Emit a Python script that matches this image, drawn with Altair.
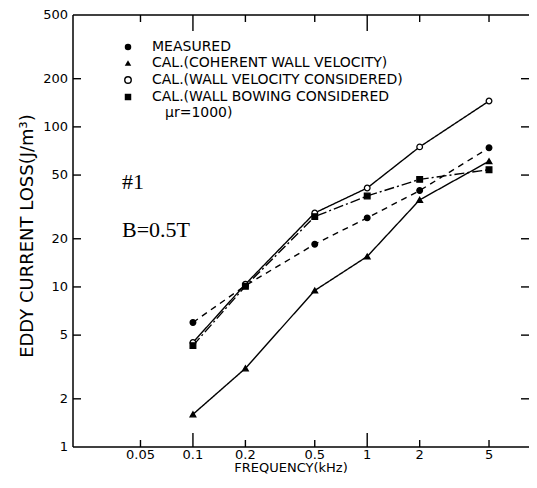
import altair as alt
import pandas as pd

# ---- data ----
freq = [0.1, 0.2, 0.5, 1, 2, 5]
measured = [6.0, 10.2, 18.5, 27, 40, 74]
coherent = [1.6, 3.1, 9.5, 15.5, 35, 61]
wall_velocity = [4.5, 10.4, 29, 41.5, 75, 145]
wall_bowing = [4.3, 10.1, 27.5, 37, 47, 54]

series_names = [
    "MEASURED",
    "CAL.(COHERENT WALL VELOCITY)",
    "CAL.(WALL VELOCITY CONSIDERED)",
    "CAL.(WALL BOWING CONSIDERED",
]
legend_extra = "μr=1000)"
x_tick_values = [0.05, 0.1, 0.2, 0.5, 1, 2, 5]
x_tick_labels = ["0.05", "0.1", "0.2", "0.5", "1", "2", "5"]
x_major_ticks = [0.1, 1]
x_minor_ticks = [0.05, 0.2, 0.5, 2, 5]
y_tick_values = [1, 2, 5, 10, 20, 50, 100, 200, 500]
y_tick_labels = ["1", "2", "5", "10", "20", "50", "100", "200", "500"]
y_inner_ticks = [2, 5, 10, 20, 50, 100, 200]
x_title = "FREQUENCY(kHz)"
y_title = "EDDY CURRENT LOSS(J/m³)"

rows = []
for name, vals in zip(series_names, [measured, coherent, wall_velocity, wall_bowing]):
    for f, v in zip(freq, vals):
        rows.append({"series": name, "freq": f, "value": v})
df = pd.DataFrame(rows)

W, H = 456, 432
FONT = "DejaVu Sans"

xs = alt.Scale(type="log", domain=[0.0205, 8.48], nice=False)
ys = alt.Scale(type="log", domain=[1, 500], nice=False)

dash_scale = alt.Scale(domain=series_names, range=[[6, 5], [1, 0], [1, 0], [10, 3, 2, 3]])
shape_scale = alt.Scale(domain=series_names, range=["circle", "triangle-up", "circle", "square"])
fill_scale = alt.Scale(domain=series_names, range=["black", "black", "white", "black"])

lines = alt.Chart(df).mark_line(color="black", strokeWidth=1.4).encode(
    x=alt.X("freq:Q", scale=xs, axis=None),
    y=alt.Y("value:Q", scale=ys, axis=None),
    strokeDash=alt.StrokeDash("series:N", scale=dash_scale, legend=None),
    order="freq:Q",
)

points = alt.Chart(df).mark_point(opacity=1, strokeWidth=1.3, size=32).encode(
    x=alt.X("freq:Q", scale=xs, axis=None),
    y=alt.Y("value:Q", scale=ys, axis=None),
    shape=alt.Shape("series:N", scale=shape_scale, legend=None),
    fill=alt.Fill("series:N", scale=fill_scale, legend=None),
    stroke=alt.value("black"),
)

# ---- axes drawn from the tick arrays through the scales ----
xlab = pd.DataFrame({"t": x_tick_values, "lab": x_tick_labels})
ylab = pd.DataFrame({"t": y_tick_values, "lab": y_tick_labels})
x_labels = alt.Chart(xlab).mark_text(
    font=FONT, fontSize=13, color="black", align="center", baseline="top"
).encode(x=alt.X("t:Q", scale=xs, axis=None), y=alt.value(H + 2), text="lab:N")
y_labels = alt.Chart(ylab).mark_text(
    font=FONT, fontSize=13, color="black", align="right", baseline="middle"
).encode(y=alt.Y("t:Q", scale=ys, axis=None), x=alt.value(-5), text="lab:N")

x_title_mark = alt.Chart(pd.DataFrame({"txt": [x_title]})).mark_text(
    font=FONT, fontSize=13, color="black", align="center", baseline="middle"
).encode(text="txt:N", x=alt.value(218), y=alt.value(H + 21))
y_title_mark = alt.Chart(pd.DataFrame({"txt": [y_title]})).mark_text(
    font=FONT, fontSize=18, color="black", align="center", baseline="middle", angle=270
).encode(text="txt:N", x=alt.value(-45), y=alt.value(221))

xmaj = pd.DataFrame({"t": x_major_ticks})
xmin = pd.DataFrame({"t": x_minor_ticks})
yin = pd.DataFrame({"t": y_inner_ticks})

def xrule(data, y0, y1):
    return alt.Chart(data).mark_rule(color="black", strokeWidth=1.4).encode(
        x=alt.X("t:Q", scale=xs, axis=None), y=alt.value(y0), y2=alt.value(y1))

def yrule(data, x0, x1):
    return alt.Chart(data).mark_rule(color="black", strokeWidth=1.4).encode(
        y=alt.Y("t:Q", scale=ys, axis=None), x=alt.value(x0), x2=alt.value(x1))

ticks = [
    xrule(xmin, H, H - 7), xrule(xmaj, H, H - 14),
    xrule(xmin, 0, 7), xrule(xmaj, 0, 16),
    yrule(yin, 0, 8), yrule(yin, W - 8, W),
]

one = pd.DataFrame({"a": [0]})
frame = [
    alt.Chart(one).mark_rule(color="black", strokeWidth=1.5).encode(
        x=alt.value(0), x2=alt.value(W), y=alt.value(0)),
    alt.Chart(one).mark_rule(color="black", strokeWidth=1.5).encode(
        x=alt.value(0), x2=alt.value(W), y=alt.value(H)),
    alt.Chart(one).mark_rule(color="black", strokeWidth=1.5).encode(
        x=alt.value(0), y=alt.value(0), y2=alt.value(H)),
]

# ---- hand-built legend (top-left, inside the plot) ----
LX, LTX = 55, 79
LY = [32, 48, 65, 82]
leg_shapes = ["circle", "triangle-up", "circle", "square"]
leg_fill = [True, True, False, True]
legend_layers = []
for i, name in enumerate(series_names):
    legend_layers.append(
        alt.Chart(one).mark_point(
            shape=leg_shapes[i], filled=leg_fill[i], size=42, opacity=1,
            color="black", strokeWidth=1.4,
            fill="black" if leg_fill[i] else "white",
        ).encode(x=alt.value(LX), y=alt.value(LY[i]))
    )
    legend_layers.append(
        alt.Chart(pd.DataFrame({"txt": [name]})).mark_text(
            font=FONT, fontSize=14, color="black", align="left", baseline="middle"
        ).encode(text="txt:N", x=alt.value(LTX), y=alt.value(LY[i]))
    )

mu_text = alt.Chart(pd.DataFrame({"txt": [legend_extra]})).mark_text(
    font=FONT, fontSize=14, color="black", align="left", baseline="middle"
).encode(text="txt:N", x=alt.value(92), y=alt.value(98))

id_text = alt.Chart(pd.DataFrame({"txt": ["#1"]})).mark_text(
    font="Liberation Serif", fontSize=22, color="black", align="left", baseline="middle"
).encode(text="txt:N", x=alt.value(49), y=alt.value(167))

b_text = alt.Chart(pd.DataFrame({"txt": ["B=0.5T"]})).mark_text(
    font="Liberation Serif", fontSize=22, color="black", align="left", baseline="middle"
).encode(text="txt:N", x=alt.value(49), y=alt.value(215))

chart = alt.layer(
    lines, points, *ticks, *frame, x_labels, y_labels, x_title_mark, y_title_mark,
    *legend_layers, mu_text, id_text, b_text
).properties(
    width=W, height=H,
    padding={"left": 65, "top": 7, "right": 0, "bottom": 27},
    autosize=alt.AutoSizeParams(type="none"),
    background="white",
).configure_view(stroke=None)

chart.save("out.html", embed_options={"renderer": "svg", "actions": False})
